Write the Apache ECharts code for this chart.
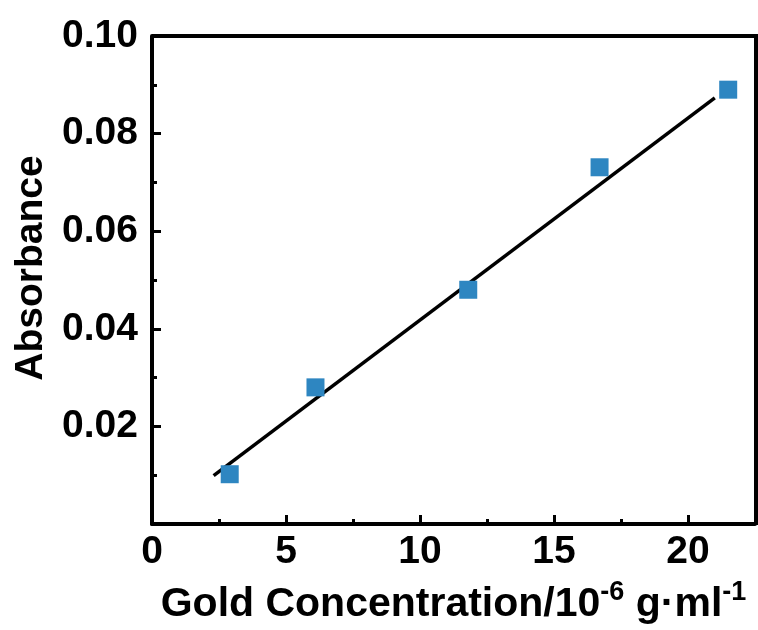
<!DOCTYPE html>
<html>
<head>
<meta charset="utf-8">
<script src="https://cdn.jsdelivr.net/npm/echarts@6/dist/echarts.min.js"></script>
<style>
  html, body { margin: 0; padding: 0; background: #fff; }
  #main { width: 758px; height: 630px; }
</style>
</head>
<body>
<div id="main"></div>
<script>
  // measured points
  const concentration = [2.9, 6.1, 11.8, 16.7, 21.5]
  const absorbance = [0.0102, 0.028, 0.048, 0.0731, 0.089]
  // linear fit line ends
  const fitX = [2.3, 21.0]
  const fitY = [0.0099, 0.0873]

  const font = 'Arial, "Liberation Sans", sans-serif'
  const chart = echarts.init(document.getElementById('main'))

  chart.setOption({
    animation: false,
    grid: { left: 152, right: 2, top: 36, bottom: 105 },
    xAxis: {
      type: 'value',
      min: 0,
      max: 22.5,
      interval: 5,
      name: '{t|Gold Concentration/10}{s|-6}{t| g·ml}{s|-1}',
      nameLocation: 'middle',
      nameGap: 55,
      nameTextStyle: {
        rich: {
          t: { fontSize: 41, fontWeight: 'bold', color: '#000', fontFamily: font, verticalAlign: 'bottom' },
          s: { fontSize: 27, fontWeight: 'bold', color: '#000', fontFamily: font, verticalAlign: 'top', padding: [0, 0, 19, 0] }
        }
      },
      axisLine: { show: true, lineStyle: { color: '#000', width: 4 } },
      axisTick: { inside: true, length: 9, lineStyle: { width: 3 } },
      minorTick: { show: true, splitNumber: 2, length: 5, lineStyle: { color: '#000', width: 3 } },
      axisLabel: { fontSize: 39, fontWeight: 'bold', color: '#000', fontFamily: font, margin: 9,
        formatter: v => (v > 22 ? '' : v) },
      splitLine: { show: false }
    },
    yAxis: {
      type: 'value',
      min: 0,
      max: 0.1,
      interval: 0.02,
      name: 'Absorbance',
      nameLocation: 'middle',
      nameGap: 99,
      nameTextStyle: { fontSize: 39, fontWeight: 'bold', color: '#000', fontFamily: font, padding: [0, 0, 0, 24] },
      axisLine: { show: true, lineStyle: { color: '#000', width: 4 } },
      axisTick: { inside: true, length: 9, lineStyle: { width: 3 } },
      minorTick: { show: true, splitNumber: 2, length: 5, lineStyle: { color: '#000', width: 3 } },
      axisLabel: { fontSize: 39, fontWeight: 'bold', color: '#000', fontFamily: font, margin: 14,
        formatter: v => (v === 0 ? '' : v.toFixed(2)) },
      splitLine: { show: false }
    },
    graphic: [{
      type: 'polyline',
      shape: { points: [[152, 36], [756, 36], [756, 525]] },
      style: { stroke: '#000', lineWidth: 4, fill: null },
      silent: true
    }],
    series: [
      {
        type: 'line',
        data: fitX.map((x, i) => [x, fitY[i]]),
        symbol: 'none',
        lineStyle: { color: '#000', width: 3.5 },
        z: 2
      },
      {
        type: 'scatter',
        data: concentration.map((x, i) => [x, absorbance[i]]),
        symbol: 'rect',
        symbolSize: 18,
        itemStyle: { color: '#2e86c1', opacity: 1 },
        z: 3
      }
    ]
  })
</script>
</body>
</html>
